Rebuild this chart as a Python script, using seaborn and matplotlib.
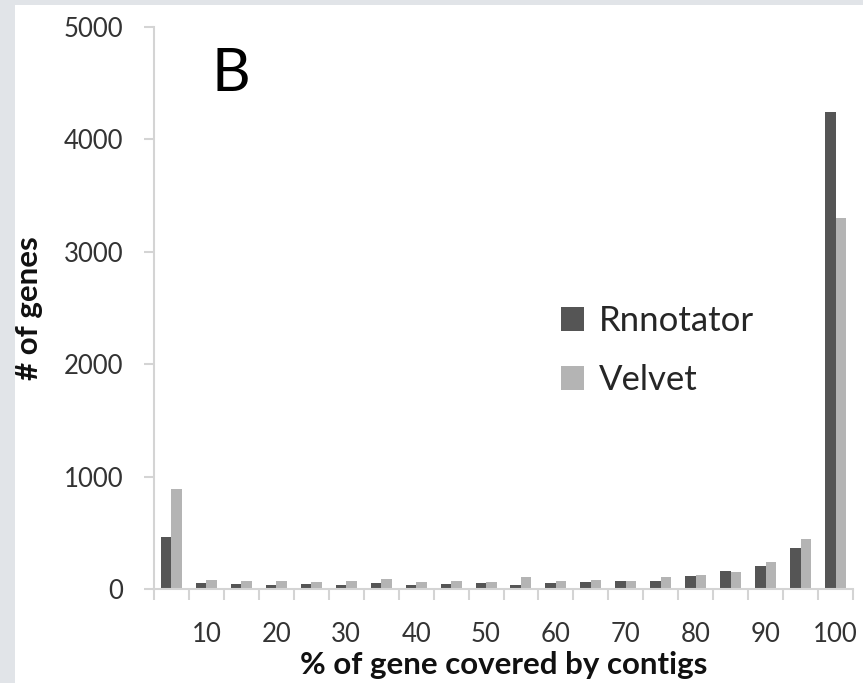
import numpy as np
import pandas as pd
import matplotlib.pyplot as plt
import seaborn as sns
from matplotlib.patches import Patch, Rectangle

# coverage bins (% of gene covered by contigs), one per 5 %
bins = [5, 10, 15, 20, 25, 30, 35, 40, 45, 50, 55, 60, 65, 70, 75, 80, 85, 90, 95, 100]
rnnotator = [460, 50, 45, 35, 45, 35, 50, 35, 45, 55, 38, 53, 62, 74, 74, 118, 160, 206, 369, 4240]
velvet = [890, 80, 75, 75, 65, 75, 85, 65, 75, 65, 103, 74, 82, 68, 103, 124, 148, 242, 442, 3300]
series_names = ["Rnnotator", "Velvet"]
series_colors = ["#555555", "#b4b4b4"]
tick_labels = [str(b) if b % 10 == 0 else "" for b in bins]

df = pd.DataFrame({
    "bin": [str(b) for b in bins] * 2,
    "count": rnnotator + velvet,
    "assembler": ["Rnnotator"] * len(bins) + ["Velvet"] * len(bins),
})

sns.set_style("white")
plt.rcParams["font.family"] = ["Lato", "DejaVu Sans"]

fig = plt.figure(figsize=(8.63, 6.83), dpi=100)
fig.patch.set_facecolor("#e1e4e8")
fig.add_artist(Rectangle((15 / 863, 0), 1, 1 - 5 / 683, transform=fig.transFigure,
                         facecolor="white", edgecolor="none", zorder=0))

ax = fig.add_axes([154 / 863, 1 - 589 / 683, 699 / 863, 562 / 683])
ax.set_facecolor("none")

sns.barplot(data=df, x="bin", y="count", hue="assembler",
            palette=dict(zip(series_names, series_colors)),
            width=0.6, gap=0, saturation=1, edgecolor="none", ax=ax)

ax.set_xlim(-0.5, len(bins) - 0.5)
ax.set_ylim(0, 5000)
ax.set_yticks(range(0, 5001, 1000))
ax.set_xticks(range(len(bins)))
ax.set_xticklabels(tick_labels)
ax.set_xticks(np.arange(-0.5, len(bins)), minor=True)

ax.tick_params(axis="x", which="major", length=0, pad=24, labelsize=18.5, labelcolor="#333333")
ax.tick_params(axis="x", which="minor", length=8, width=1.5, color="#d4d4d4", bottom=True)
ax.tick_params(axis="y", length=7, width=1.5, color="#d4d4d4", left=True, pad=15,
               labelsize=18.5, labelcolor="#333333")

for side in ["top", "right"]:
    ax.spines[side].set_visible(False)
for side in ["left", "bottom"]:
    ax.spines[side].set_color("#d4d4d4")
    ax.spines[side].set_linewidth(1.5)

ax.set_ylabel("# of genes", fontsize=22.5, fontweight="bold", color="#111111")
ax.yaxis.set_label_coords(-0.159, 0.5)
ax.set_xlabel("% of gene covered by contigs", fontsize=22.5, fontweight="bold", color="#111111")
ax.xaxis.set_label_coords(0.5, -(665 - 589) / 562)
ax.xaxis.label.set_va("center")

ax.text((231 - 154) / 699, (589 - 74) / 562, "B", transform=ax.transAxes,
        fontsize=43, ha="center", va="center", color="black")

handles = [Patch(facecolor=c, edgecolor="none") for c in series_colors]
ax.legend(handles, series_names, loc="upper left", bbox_to_anchor=(0.582, 0.505),
          frameon=False, fontsize=25, handlelength=0.66, handleheight=0.66,
          handletextpad=0.45, labelspacing=0.78, borderpad=0, borderaxespad=0)

fig.savefig("out.png", dpi=100)
